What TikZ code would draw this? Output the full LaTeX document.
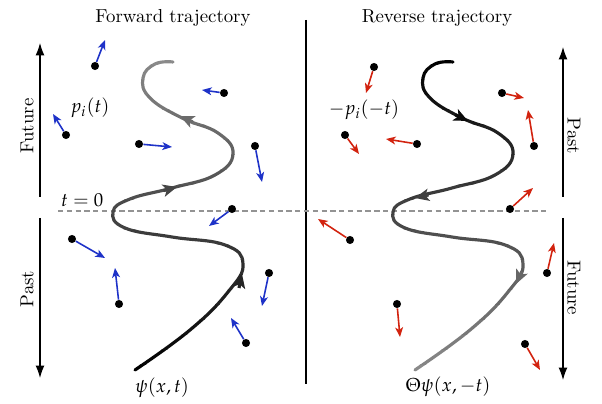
\documentclass[tikz,border=0pt]{standalone}
\usepackage{mathpazo}
\usetikzlibrary{arrows.meta}
\definecolor{fwdblue}{RGB}{30,50,200}
\definecolor{revred}{RGB}{210,35,15}
\tikzstyle{dot}=[circle, fill=black, inner sep=0pt, minimum size=4.6pt]
\tikzstyle{mom}=[line width=0.9pt, -{Stealth[length=5.5pt, width=4.5pt, inset=1.5pt]}]
\tikzstyle{traj}=[line width=1.8pt, line cap=round]
\tikzstyle{trajarrow}=[line width=1.8pt, -{Stealth[length=8pt, width=7pt, inset=2pt]}]
\tikzstyle{timeaxis}=[line width=0.6pt, -{Latex[length=7pt, width=5pt]}]

\begin{document}
\begin{tikzpicture}[x=0.02cm, y=0.02cm, font=\fontsize{10.7pt}{13pt}\selectfont]
    \useasboundingbox (0,0) rectangle (602,404);
    % titles and separator
    \node (fwdtitle) at (173,386) {Forward trajectory};
    \node (revtitle) at (437,386) {Reverse trajectory};
    \coordinate (sepT) at (306,384);
    \coordinate (sepB) at (306,20);
    \draw[line width=1.6pt] (sepT) -- (sepB);
    % t = 0
    \coordinate (zeroL) at (58,193);
    \coordinate (zeroR) at (547,193);
    \draw[gray!85, line width=0.6pt, dash pattern=on 3pt off 2pt] (zeroL) -- (zeroR);
    \node[anchor=base west, inner sep=1pt] (tzero) at (59,197) {$t=0$};
    % time axes
    \coordinate (la0) at (40,207);
    \coordinate (la1) at (40,361);
    \coordinate (la2) at (40,186);
    \coordinate (la3) at (40,26);
    \coordinate (ra0) at (563,207);
    \coordinate (ra1) at (563,357);
    \coordinate (ra2) at (563,186);
    \coordinate (ra3) at (563,24);
    \draw[timeaxis] (la0) -- (la1);
    \draw[timeaxis] (la2) -- (la3);
    \draw[timeaxis] (ra0) -- (ra1);
    \draw[timeaxis] (ra2) -- (ra3);
    \node[rotate=90] (lfut) at (27,278) {Future};
    \node[rotate=90] (lpast) at (27,115) {Past};
    \node[rotate=-90] (rpast) at (574,268) {Past};
    \node[rotate=-90] (rfut) at (574,116) {Future};
    % trajectories, shaded band by band (left: dark at the bottom, right: dark at the top)
    \foreach \k in {0,...,21} {
        \pgfmathsetmacro{\ylo}{24+\k*15}
        \pgfmathsetmacro{\lvl}{max(46,min(100,100-(\ylo-26.5)*0.1753))}
        \pgfmathsetmacro{\rlvl}{max(46,min(100,100-(334.5-\ylo)*0.1753))}
        \begin{scope}
            \clip (0,\ylo) rectangle (602,\ylo+15);
            \draw[traj, black!\lvl] plot[smooth, tension=0.75] coordinates {(135,34) (190,74) (228,112) (243,140) (225,159) (172,167) (125,176) (113,192) (130,205) (172,216) (215,229) (233,250) (218,271) (182,286) (150,306) (143,326) (155,340) (173,342)};
            \draw[traj, black!\rlvl, shift={(280,0)}] plot[smooth, tension=0.75] coordinates {(135,34) (190,74) (228,112) (243,140) (225,159) (172,167) (125,176) (113,192) (130,205) (172,216) (215,229) (233,250) (218,271) (182,286) (150,306) (143,326) (155,340) (173,342)};
        \end{scope}
    }
    % direction marks on the trajectories
    \coordinate (a1s) at (239,116);
    \coordinate (a1) at (242,130);
    \coordinate (a2s) at (163.5,213.4);
    \coordinate (a2) at (177,217);
    \coordinate (a3s) at (192.7,282.1);
    \coordinate (a3) at (180,288);
    \coordinate (b1s) at (455.4,289.1);
    \coordinate (b1) at (468,283);
    \coordinate (b2s) at (428.6,209.1);
    \coordinate (b2) at (415,206);
    \coordinate (b3s) at (521.9,132.7);
    \coordinate (b3) at (516,120);
    \draw[trajarrow, black!86] (a1s) -- (a1);
    \draw[trajarrow, black!73] (a2s) -- (a2);
    \draw[trajarrow, black!58] (a3s) -- (a3);
    \draw[trajarrow, black!96] (b1s) -- (b1);
    \draw[trajarrow, black!75] (b2s) -- (b2);
    \draw[trajarrow, black!60] (b3s) -- (b3);
    % labels
    \node (plabel) at (90,296) {$p_i(t)$};
    \node (mplabel) at (364,294) {$-p_i(-t)$};
    \node (psilabel) at (162,16) {$\psi(x,t)$};
    \node (thetalabel) at (448,17) {$\Theta\psi(x,-t)$};
    % forward particles
    \node[dot] (p1) at (95,338) {};
    \node[dot] (p2) at (224,311) {};
    \node[dot] (p3) at (66,269) {};
    \node[dot] (p4) at (139,260) {};
    \node[dot] (p5) at (255,258) {};
    \node[dot] (p6) at (232,195) {};
    \node[dot] (p7) at (72,165) {};
    \node[dot] (p8) at (119,100) {};
    \node[dot] (p9) at (269,131) {};
    \node[dot] (p10) at (246,61) {};
    \coordinate (p1t) at (105,364);
    \coordinate (p2t) at (202,314);
    \coordinate (p3t) at (53,290);
    \coordinate (p4t) at (172,257);
    \coordinate (p5t) at (262,222);
    \coordinate (p6t) at (209,178);
    \coordinate (p7t) at (105,146);
    \coordinate (p8t) at (115,136);
    \coordinate (p9t) at (262,98);
    \coordinate (p10t) at (231,86);
    \draw[mom, fwdblue] (p1) -- (p1t);
    \draw[mom, fwdblue] (p2) -- (p2t);
    \draw[mom, fwdblue] (p3) -- (p3t);
    \draw[mom, fwdblue] (p4) -- (p4t);
    \draw[mom, fwdblue] (p5) -- (p5t);
    \draw[mom, fwdblue] (p6) -- (p6t);
    \draw[mom, fwdblue] (p7) -- (p7t);
    \draw[mom, fwdblue] (p8) -- (p8t);
    \draw[mom, fwdblue] (p9) -- (p9t);
    \draw[mom, fwdblue] (p10) -- (p10t);
    % reverse particles
    \node[dot] (q1) at (374,337) {};
    \node[dot] (q2) at (502,311) {};
    \node[dot] (q3) at (345,269) {};
    \node[dot] (q4) at (417,260) {};
    \node[dot] (q5) at (534,258) {};
    \node[dot] (q6) at (510,195) {};
    \node[dot] (q7) at (350,164) {};
    \node[dot] (q8) at (397,100) {};
    \node[dot] (q9) at (547,131) {};
    \node[dot] (q10) at (525,60) {};
    \coordinate (q1t) at (366,311);
    \coordinate (q2t) at (524,306);
    \coordinate (q3t) at (359,250);
    \coordinate (q4t) at (386,265);
    \coordinate (q5t) at (528,294);
    \coordinate (q6t) at (533,216);
    \coordinate (q7t) at (318,185);
    \coordinate (q8t) at (400,67);
    \coordinate (q9t) at (554,161);
    \coordinate (q10t) at (540,34);
    \draw[mom, revred] (q1) -- (q1t);
    \draw[mom, revred] (q2) -- (q2t);
    \draw[mom, revred] (q3) -- (q3t);
    \draw[mom, revred] (q4) -- (q4t);
    \draw[mom, revred] (q5) -- (q5t);
    \draw[mom, revred] (q6) -- (q6t);
    \draw[mom, revred] (q7) -- (q7t);
    \draw[mom, revred] (q8) -- (q8t);
    \draw[mom, revred] (q9) -- (q9t);
    \draw[mom, revred] (q10) -- (q10t);
\end{tikzpicture}
\end{document}
